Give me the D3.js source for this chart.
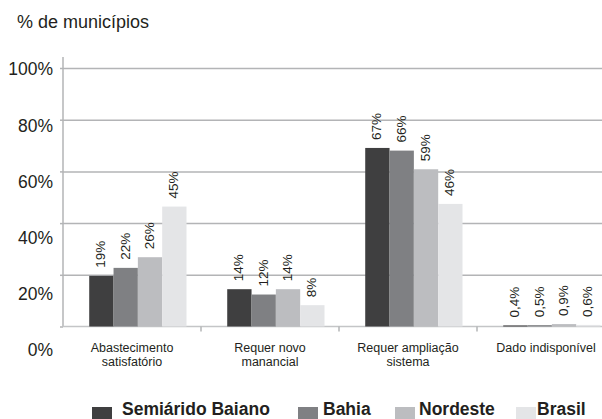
<!DOCTYPE html>
<html>
<head>
<meta charset="utf-8">
<script src="https://cdn.jsdelivr.net/npm/d3@7"></script>
<style>
  body { margin: 0; background: #fff; }
  svg { display: block; font-family: "Liberation Sans", Arial, sans-serif; }
  .grid line { stroke: #b3b4b6; stroke-width: 1.5; }
  .grid .domain { display: none; }
</style>
</head>
<body>
<div class="chart"></div>
<script>
// svg dimensions
var svgWidth = 602;
var svgHeight = 419;

// data
var categories = [
    ["Abastecimento", "satisfatório"],
    ["Requer novo", "manancial"],
    ["Requer ampliação", "sistema"],
    ["Dado indisponível"]
];
var seriesNames = ["Semiárido Baiano", "Bahia", "Nordeste", "Brasil"];
var semiarido = [19, 14, 67, 0.4];
var bahia = [22, 12, 66, 0.5];
var nordeste = [26, 14, 59, 0.9];
var brasil = [45, 8, 46, 0.6];
var yTicks = [0, 20, 40, 60, 80, 100];

var seriesValues = [semiarido, bahia, nordeste, brasil];
var colors = ["#3f3f40", "#7f8083", "#bcbdc0", "#e4e5e7"];
var textColor = "#231f20";

var svg = d3.select(".chart")
    .append("svg")
    .attr("width", svgWidth)
    .attr("height", svgHeight);

// scales (gridlines, tick labels and bars are spaced slightly differently in the original)
var gridY = d3.scaleLinear().domain([0, 100]).range([326.5, 68]);
var labelY = d3.scaleLinear().domain([0, 100]).range([350, 69]);
var barY = d3.scaleLinear().domain([0, 100]).range([326.5, 60]);

var x = d3.scaleBand()
    .domain(d3.range(categories.length))
    .range([63, 615]);

var xSub = d3.scaleBand()
    .domain(d3.range(seriesNames.length))
    .range([x.bandwidth() * 0.19, x.bandwidth() * 0.895]);

// title
svg.append("text")
    .attr("x", 17)
    .attr("y", 28)
    .style("font-size", "18px")
    .attr("fill", textColor)
    .text("% de municípios");

// gridlines
svg.append("g")
    .attr("class", "grid")
    .attr("transform", "translate(63,0)")
    .call(d3.axisLeft(gridY).tickValues(yTicks.slice(1)).tickSize(-svgWidth).tickFormat(""));

// left tick marks
svg.append("g")
    .attr("class", "grid")
    .attr("transform", "translate(63,0)")
    .call(d3.axisLeft(gridY).tickValues(yTicks).tickSize(3).tickFormat(""));

// y tick labels
svg.append("g")
    .selectAll("text")
    .data(yTicks)
    .enter()
    .append("text")
    .attr("x", 53)
    .attr("y", d => labelY(d))
    .attr("dy", "0.36em")
    .attr("text-anchor", "end")
    .style("font-size", "17.5px")
    .attr("fill", textColor)
    .text(d => d + "%");

// left axis line
svg.append("line")
    .attr("x1", 63).attr("x2", 63)
    .attr("y1", 57).attr("y2", gridY(0))
    .attr("stroke", "#b3b4b6")
    .attr("stroke-width", 1.5);

// baseline and category ticks
svg.append("line")
    .attr("x1", 63).attr("x2", svgWidth)
    .attr("y1", gridY(0)).attr("y2", gridY(0))
    .attr("stroke", "#c4c5c7")
    .attr("stroke-width", 1.5);

svg.append("g")
    .selectAll("line")
    .data(d3.range(1, categories.length))
    .enter()
    .append("line")
    .attr("x1", d => x(d)).attr("x2", d => x(d))
    .attr("y1", gridY(0)).attr("y2", gridY(0) + 5)
    .attr("stroke", "#b3b4b6")
    .attr("stroke-width", 1.5);

// bars
var fmt = d3.formatLocale({decimal: ",", thousands: ".", grouping: [3], currency: ["", ""]}).format(".1~f");

var groups = svg.append("g")
    .selectAll("g")
    .data(categories)
    .enter()
    .append("g")
    .attr("transform", (d, i) => `translate(${x(i)},0)`);

groups.selectAll("rect")
    .data((d, i) => seriesValues.map(s => s[i]))
    .enter()
    .append("rect")
    .attr("x", (d, j) => xSub(j))
    .attr("width", xSub.bandwidth())
    .attr("y", d => barY(d))
    .attr("height", d => barY(0) - barY(d))
    .attr("fill", (d, j) => colors[j]);

groups.selectAll("text.val")
    .data((d, i) => seriesValues.map(s => s[i]))
    .enter()
    .append("text")
    .attr("class", "val")
    .attr("transform", (d, j) => `translate(${xSub(j) + xSub.bandwidth() / 2 - 1},${barY(d) - 8}) rotate(-90)`)
    .attr("dy", "0.36em")
    .style("font-size", "13.5px")
    .attr("fill", textColor)
    .text(d => fmt(d) + "%");

// category labels
groups.append("text")
    .attr("text-anchor", "middle")
    .style("font-size", "12.5px")
    .attr("fill", textColor)
    .selectAll("tspan")
    .data(d => d)
    .enter()
    .append("tspan")
    .attr("x", x.bandwidth() / 2)
    .attr("y", (d, k) => 352 + k * 14)
    .text(d => d);

// legend
var legendSquareX = [92, 298, 395, 516];
var legendTextX = [122, 323, 419, 537];

var legend = svg.append("g");
legend.selectAll("rect")
    .data(seriesNames)
    .enter()
    .append("rect")
    .attr("x", (d, i) => legendSquareX[i])
    .attr("y", 407)
    .attr("width", 20)
    .attr("height", 14)
    .attr("fill", (d, i) => colors[i]);

legend.selectAll("text")
    .data(seriesNames)
    .enter()
    .append("text")
    .attr("x", (d, i) => legendTextX[i])
    .attr("y", 415)
    .style("font-size", "17.5px")
    .style("font-weight", "bold")
    .attr("fill", textColor)
    .text(d => d);
</script>
</body>
</html>
